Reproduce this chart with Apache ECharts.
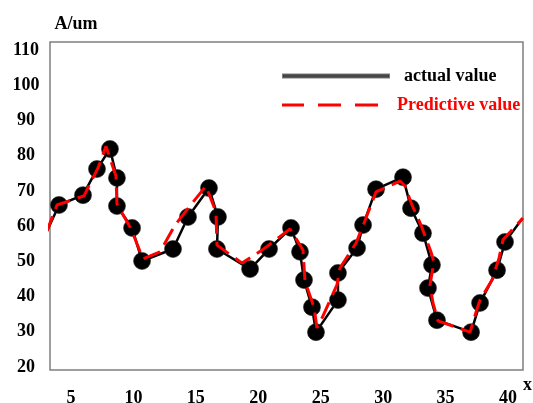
<!DOCTYPE html>
<html>
<head>
<meta charset="utf-8">
<script src="https://cdn.jsdelivr.net/npm/echarts@6/dist/echarts.min.js"></script>
<style>html,body{margin:0;padding:0;background:#fff}#c{width:533px;height:403px}</style>
</head>
<body>
<div id="c"></div>
<script>
var actualX = [3.08, 4.04, 5.96, 7.08, 8.12, 8.68, 8.68, 9.89, 10.69, 13.17, 14.37, 16.05, 16.77, 16.69, 19.34, 20.86, 22.62, 23.34, 23.66, 24.30, 24.62, 26.38, 26.38, 27.91, 28.39, 29.43, 31.59, 32.23, 33.19, 33.91, 33.59, 34.31, 37.04, 37.76, 39.12, 39.76, 41.12];
var actualY = [58.6, 66.0, 68.8, 76.2, 81.9, 73.7, 65.7, 59.5, 50.1, 53.5, 62.6, 70.8, 62.6, 53.5, 47.8, 53.5, 59.5, 52.7, 44.7, 37.0, 29.9, 39.0, 46.7, 53.8, 60.3, 70.5, 73.9, 65.1, 58.0, 49.0, 42.4, 33.3, 29.9, 38.2, 47.5, 55.5, 62.0];
var predX = [3.00, 3.88, 6.04, 7.16, 7.80, 8.60, 8.68, 9.81, 10.77, 12.13, 13.33, 14.77, 15.81, 16.61, 16.69, 18.70, 20.30, 22.54, 23.58, 23.74, 24.46, 24.70, 25.10, 26.30, 26.54, 27.83, 28.47, 29.43, 31.35, 31.75, 32.31, 33.03, 33.83, 34.07, 33.75, 33.99, 34.39, 36.96, 37.44, 37.76, 38.72, 39.28, 39.60, 40.32, 41.20];
var predY = [58.0, 66.0, 68.6, 76.5, 82.7, 74.2, 66.3, 59.2, 50.7, 52.7, 60.3, 66.8, 71.4, 64.0, 54.6, 49.5, 53.2, 59.2, 53.2, 44.4, 37.0, 31.1, 33.9, 43.3, 48.1, 55.2, 60.9, 69.7, 72.8, 71.4, 66.0, 60.3, 52.7, 49.8, 43.3, 38.2, 33.1, 29.9, 35.6, 39.0, 44.7, 50.9, 56.1, 58.9, 62.3];
var seriesNames = ['actual value', 'Predictive value'];
var xTicks = [5, 10, 15, 20, 25, 30, 35, 40];
var yTicks = [20, 30, 40, 50, 60, 70, 80, 90, 100, 110];
var xRange = [3.318, 41.2];
var yRange = [19.15, 112.28];
var xName = 'x', yName = 'A/um';

var actualData = actualX.map(function (x, i) {
  var d = { value: [x, actualY[i]] };
  if (i === 0 || i === actualX.length - 1) d.symbol = 'none';
  return d;
});
var predData = predX.map(function (x, i) { return [x, predY[i]]; });

var font = 'Liberation Serif';
var chart = echarts.init(document.getElementById('c'));
chart.setOption({
  animation: false,
  backgroundColor: '#fff',
  grid: { left: 50, right: 10, top: 42, bottom: 33, show: true, borderColor: '#7f7f7f', borderWidth: 1.5, outerBoundsMode: 'none', containLabel: false },
  xAxis: {
    type: 'value', min: xRange[0], max: xRange[1],
    axisLine: { show: false }, axisTick: { show: false, customValues: xTicks }, splitLine: { show: false },
    axisLabel: { customValues: xTicks, color: '#000', fontFamily: font, fontWeight: 'bold', fontSize: 18, margin: 19 },
    name: xName, nameLocation: 'end', nameGap: 0,
    nameTextStyle: { color: '#000', fontFamily: font, fontWeight: 'bold', fontSize: 18, align: 'left', verticalAlign: 'top', padding: [6, 0, 0, 0] }
  },
  yAxis: {
    type: 'value', min: yRange[0], max: yRange[1],
    axisLine: { show: false }, axisTick: { show: false, customValues: yTicks }, splitLine: { show: false },
    axisLabel: { customValues: yTicks, color: '#000', fontFamily: font, fontWeight: 'bold', fontSize: 18, margin: 24, align: 'center', padding: [8, 0, 0, 0] },
    name: yName, nameLocation: 'end', nameGap: 9,
    nameTextStyle: { color: '#000', fontFamily: font, fontWeight: 'bold', fontSize: 18, align: 'center', padding: [0, 0, 0, 52] }
  },
  legend: [
    { left: 282, top: 67, padding: 0, orient: 'vertical', itemWidth: 106, itemHeight: 3,
      textStyle: { fontFamily: font, fontWeight: 'bold', fontSize: 18, color: '#000', padding: [0, 0, 0, 10] },
      data: [{ name: seriesNames[0], icon: 'rect', itemStyle: { color: '#555' } }] },
    { left: 282, top: 96, padding: 0, orient: 'vertical', itemWidth: 96, itemHeight: 3,
      textStyle: { fontFamily: font, fontWeight: 'bold', fontSize: 18, color: '#ff0000', padding: [0, 0, 0, 14] },
      data: [{ name: seriesNames[1], icon: 'path://M0,0h22v3h-22z M36,0h23v3h-23z M73,0h23v3h-23z', itemStyle: { color: '#ff0000' } }] }
  ],
  series: [
    { name: seriesNames[0], type: 'line', data: actualData, clip: false,
      symbol: 'circle', symbolSize: 17, showSymbol: true,
      itemStyle: { color: '#000', borderColor: 'rgba(40,40,40,0.6)', borderWidth: 1 },
      lineStyle: { color: '#000', width: 2.5 }, z: 2 },
    { name: seriesNames[1], type: 'line', data: predData, clip: false,
      showSymbol: false, symbol: 'none',
      itemStyle: { color: '#ff0000' },
      lineStyle: { color: '#ff0000', width: 3, type: [18, 8] }, z: 3 }
  ]
});
</script>
</body>
</html>
